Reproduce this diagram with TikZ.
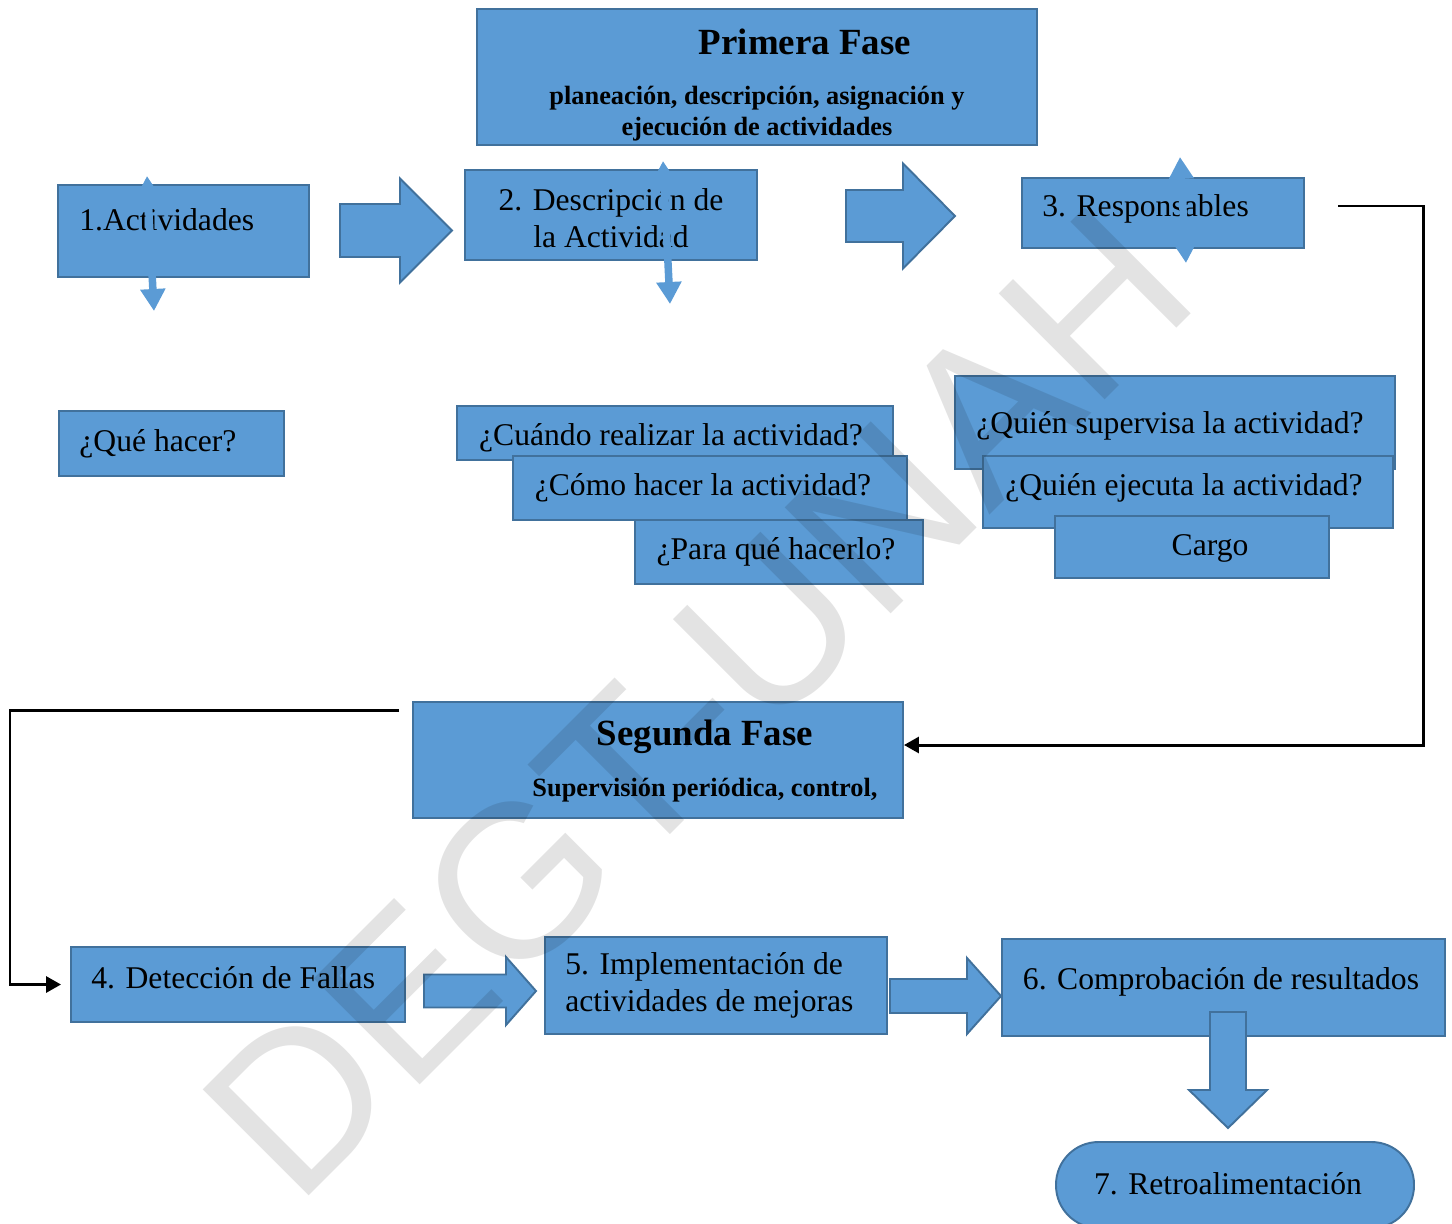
\documentclass[tikz,border=0pt]{standalone}
\usepackage{fontspec}
\setmainfont{Liberation Serif}
\newfontfamily\wmfont{Liberation Sans}
\usetikzlibrary{arrows.meta, positioning, calc}
\definecolor{boxblue}{HTML}{5B9BD5}
\definecolor{edgeblue}{HTML}{41719C}

% block arrow pointing right: x start, x head, x tip, y middle, half shaft, half head
\newcommand{\fatarrow}[6]{%
  \filldraw[blockarrow] (#1,#4-#5) -- (#2,#4-#5) -- (#2,#4-#6) -- (#3,#4)
    -- (#2,#4+#6) -- (#2,#4+#5) -- (#1,#4+#5) -- cycle;}

\begin{document}
\begin{tikzpicture}[x=0.02cm, y=-0.02cm,
  box/.style={draw=edgeblue, fill=boxblue, line width=1.1pt, inner sep=0pt},
  wh/.style 2 args={minimum width=#1*0.02cm, minimum height=#2*0.02cm},
  txt/.style={font=\fontsize{18}{21}\selectfont, inner sep=0pt},
  title/.style={font=\bfseries\fontsize{21}{25}\selectfont, inner sep=0pt},
  subtitle/.style={font=\bfseries\fontsize{15}{17.6}\selectfont, inner sep=0pt},
  blockarrow/.style={draw=edgeblue, fill=boxblue, line width=1.1pt},
  smallarr/.style={draw=boxblue, line width=0.15cm,
    {Triangle[length=0.44cm,width=0.48cm]}-{Triangle[length=0.44cm,width=0.48cm]}},
  link/.style={draw=black, line width=0.06cm, -{Triangle[length=0.3cm,width=0.32cm]}},
  watermark/.style={font=\wmfont\fontsize{124}{126}\selectfont, text=black,
    text opacity=0.11, inner sep=0pt},
]
  \useasboundingbox (0,0) rectangle (1452,1223);

  % Primera fase
  \node[box, wh={560}{136}] (fase1) at (757,77) {};
  \node[title] (fase1t) at (805,42) {Primera Fase};
  \node[subtitle, align=center] (fase1s) at (757,114)
    {planeación, descripción, asignación y\\ejecución de actividades};

  \node[box, wh={251}{92}] (act) at (183.5,231) {};
  \node[txt, anchor=west] (actt) at ($(act.west)+(22,-11)$) {1.Actividades};
  \node[box, wh={292}{90}] (desc) at (611,215) {};
  \node[txt, align=center] (desct) at (611,218) {2. Descripción de\\la Actividad};
  \node[box, wh={282}{70}] (resp) at (1163,213) {};
  \node[txt, anchor=west] (respt) at ($(resp.west)+(21,-4)$) {3. Responsables};

  \fatarrow{340}{400}{452}{230.5}{26.5}{52}
  \fatarrow{846}{903}{955}{216}{26}{52.5}

  \coordinate (acttop) at (147,176);
  \coordinate (actbot) at (154,311);
  \coordinate (desctop) at (663,161);
  \coordinate (descbot) at (670,304);
  \coordinate (resptop) at (1180,157);
  \coordinate (respbot) at (1186,263);
  \draw[smallarr] (acttop) -- (actbot);
  \draw[smallarr] (desctop) -- (descbot);
  \draw[smallarr] (resptop) -- (respbot);

  % preguntas
  \node[box, wh={225}{65}] (que) at (171.5,443.5) {};
  \node[txt, anchor=west] (quet) at ($(que.west)+(21,0)$) {¿Qué hacer?};

  \node[box, wh={436}{54}] (cuando) at (675,433) {};
  \node[txt] (cuandot) at (671,438) {¿Cuándo realizar la actividad?};
  \node[box, wh={394}{64}] (como) at (710,488) {};
  \node[txt] (comot) at (703,488) {¿Cómo hacer la actividad?};
  \node[box, wh={288}{64}] (para) at (779,552) {};
  \node[txt] (parat) at (776,552) {¿Para qué hacerlo?};

  \node[box, wh={440}{93}] (superv) at (1175,422.5) {};
  \node[txt] (supervt) at (1170,426) {¿Quién supervisa la actividad?};
  \node[box, wh={410}{72}] (ejec) at (1188,492) {};
  \node[txt] (eject) at (1184,488) {¿Quién ejecuta la actividad?};
  \node[box, wh={274}{62}] (cargo) at (1192,547) {};
  \node[txt] (cargot) at (1210,548) {Cargo};

  % Segunda fase
  \node[box, wh={490}{116}] (fase2) at (658,760) {};
  \node[title] (fase2t) at (705,737) {Segunda Fase};
  \node[subtitle] (fase2s) at (705,790) {Supervisión periódica, control,};

  \coordinate (respout) at (1338,206);
  \draw[link] (respout) -- ++(85,0) |- ($(fase2.east)+(0,-15)$);

  \node[box, wh={334}{75}] (fallas) at (238,984.5) {};
  \node[txt, anchor=west] (fallast) at ($(fallas.west)+(21,-7)$) {4. Detección de Fallas};
  \node[box, wh={342}{97}] (mejoras) at (716,985.5) {};
  \node[txt, anchor=west, align=left] (mejorast) at ($(mejoras.west)+(21,0)$)
    {5. Implementación de\\actividades de mejoras};
  \node[box, wh={443}{97}] (comprob) at (1223.5,987.5) {};
  \node[txt] (comprobt) at (1221,982) {6. Comprobación de resultados};
  \node[box, rounded corners=0.85cm, wh={358}{86}] (retro) at (1235,1185) {};
  \node[txt] (retrot) at (1228,1184) {7. Retroalimentación};

  \coordinate (fase2out) at (399,710);
  \draw[link, shorten >=0.18cm] (fase2out) -- ++(-389,0) |- (fallas.west);

  \fatarrow{424}{506}{536}{991}{16.5}{34}
  \fatarrow{890}{967}{1001}{996}{17}{38}
  \filldraw[blockarrow] (1210,1012) -- (1246,1012) -- (1246,1090) -- (1267,1090)
    -- (1228,1128) -- (1189,1090) -- (1210,1090) -- cycle;

  \node[watermark, rotate=45] (wm) at (697,702) {DEGT-UNAH};

\end{tikzpicture}
\end{document}
